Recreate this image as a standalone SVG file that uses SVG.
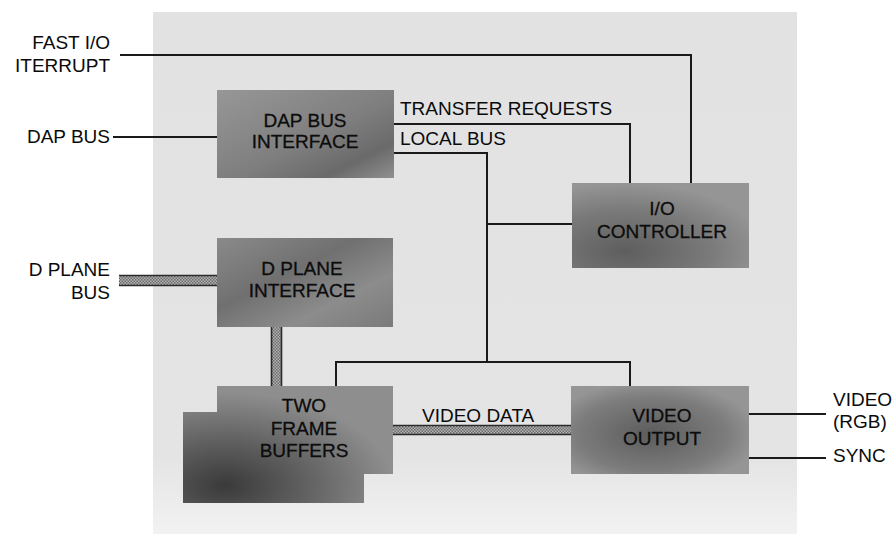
<svg xmlns="http://www.w3.org/2000/svg" width="894" height="534" viewBox="0 0 894 534">
  <defs>
    <style>
      .lbl { font-family: "Liberation Sans", Arial, Helvetica, sans-serif; font-size: 19px; fill: #0a0a0a; }
      .blbl { font-family: "Liberation Sans", Arial, Helvetica, sans-serif; font-size: 19px; fill: #0c0c0c; text-anchor: middle; stroke: #0c0c0c; stroke-width: 0.3px; }
      .wire { stroke: #1a1a1a; stroke-width: 2; fill: none; }
      .barfill { fill: url(#hatch); }
      .baredge { stroke: #2a2a2a; stroke-width: 1.6; fill: none; }
    </style>
    <pattern id="hatch" width="3" height="3" patternUnits="userSpaceOnUse">
      <rect width="3" height="3" fill="#b4b4b4"/>
      <rect width="1.5" height="1.5" fill="#6a6a6a"/>
      <rect x="1.5" y="1.5" width="1.5" height="1.5" fill="#6a6a6a"/>
    </pattern>
    <linearGradient id="bg" x1="0" y1="0" x2="0" y2="1">
      <stop offset="0" stop-color="#e2e2e2"/>
      <stop offset="0.85" stop-color="#e4e4e4"/>
      <stop offset="1" stop-color="#f2f2f2"/>
    </linearGradient>
    <linearGradient id="gDap" x1="0" y1="0" x2="1" y2="1">
      <stop offset="0" stop-color="#979797"/>
      <stop offset="0.55" stop-color="#7e7e7e"/>
      <stop offset="0.8" stop-color="#6a6a6a"/>
      <stop offset="1" stop-color="#909090"/>
    </linearGradient>
    <linearGradient id="gDpl" x1="0" y1="0" x2="1" y2="1">
      <stop offset="0" stop-color="#8a8a8a"/>
      <stop offset="0.4" stop-color="#707070"/>
      <stop offset="0.7" stop-color="#8c8c8c"/>
      <stop offset="1" stop-color="#7a7a7a"/>
    </linearGradient>
    <radialGradient id="gFb" cx="0.2" cy="0.85" r="0.8">
      <stop offset="0" stop-color="#3a3a3a"/>
      <stop offset="0.45" stop-color="#5e5e5e"/>
      <stop offset="1" stop-color="#8e8e8e"/>
    </radialGradient>
    <radialGradient id="gIo" cx="0.3" cy="0.8" r="0.8">
      <stop offset="0" stop-color="#5e5e5e"/>
      <stop offset="0.6" stop-color="#7a7a7a"/>
      <stop offset="1" stop-color="#959595"/>
    </radialGradient>
    <radialGradient id="gVo" cx="0.45" cy="0.55" r="0.6">
      <stop offset="0" stop-color="#5c5c5c"/>
      <stop offset="0.7" stop-color="#7c7c7c"/>
      <stop offset="1" stop-color="#959595"/>
    </radialGradient>
  </defs>

  <rect width="894" height="534" fill="#ffffff"/>
  <g id="background">
    <rect x="153" y="12" width="644" height="522" fill="url(#bg)"/>
  </g>

  <g id="connectors">
    <path class="wire" d="M120,55 H691 V183"/>
    <path class="wire" d="M113,137 H217"/>
    <path class="wire" d="M394,124 H630 V183"/>
    <path class="wire" d="M394,153 H487 V362"/>
    <path class="wire" d="M487,224 H572"/>
    <path class="wire" d="M336,386 V362 H630 V386"/>
    <path class="wire" d="M749,414 H826"/>
    <path class="wire" d="M749,458 H826"/>
    <g id="bus-dplane">
      <rect class="barfill" x="119" y="275" width="98" height="11"/>
      <path class="baredge" d="M119,275.5 H217 M119,285.5 H217"/>
    </g>
    <g id="bus-dplane-fb">
      <rect class="barfill" x="271" y="327" width="11" height="59"/>
      <path class="baredge" d="M271.5,327 V386 M281.5,327 V386"/>
    </g>
    <g id="bus-video-data">
      <rect class="barfill" x="393" y="425" width="178" height="10"/>
      <path class="baredge" d="M393,425.5 H571 M393,434.5 H571"/>
    </g>
  </g>

  <g id="node-dap-bus-interface">
    <rect x="217" y="90" width="177" height="88" fill="url(#gDap)"/>
    <text class="blbl" x="305" y="127">DAP BUS</text>
    <text class="blbl" x="305" y="148">INTERFACE</text>
  </g>

  <g id="node-d-plane-interface">
    <rect x="217" y="238" width="176" height="89" fill="url(#gDpl)"/>
    <text class="blbl" x="302" y="275">D PLANE</text>
    <text class="blbl" x="302" y="297">INTERFACE</text>
  </g>

  <g id="node-two-frame-buffers">
    <path d="M217,386 H393 V474 H364 V503 H183 V412 H217 Z" fill="url(#gFb)"/>
    <text class="blbl" x="304" y="412">TWO</text>
    <text class="blbl" x="304" y="435">FRAME</text>
    <text class="blbl" x="304" y="457">BUFFERS</text>
  </g>

  <g id="node-io-controller">
    <rect x="572" y="183" width="177" height="85" fill="url(#gIo)"/>
    <text class="blbl" x="662" y="215">I/O</text>
    <text class="blbl" x="662" y="238">CONTROLLER</text>
  </g>

  <g id="node-video-output">
    <rect x="571" y="386" width="178" height="88" fill="url(#gVo)"/>
    <text class="blbl" x="662" y="422">VIDEO</text>
    <text class="blbl" x="662" y="445">OUTPUT</text>
  </g>

  <g id="labels">
    <text class="lbl" x="110" y="49" text-anchor="end">FAST I/O</text>
    <text class="lbl" x="110" y="72" text-anchor="end">ITERRUPT</text>
    <text class="lbl" x="110" y="143" text-anchor="end">DAP BUS</text>
    <text class="lbl" x="110" y="276" text-anchor="end">D PLANE</text>
    <text class="lbl" x="110" y="299" text-anchor="end">BUS</text>
    <text class="lbl" x="400" y="115">TRANSFER REQUESTS</text>
    <text class="lbl" x="400" y="145">LOCAL BUS</text>
    <text class="lbl" x="422" y="422">VIDEO DATA</text>
    <text class="lbl" x="833" y="406">VIDEO</text>
    <text class="lbl" x="833" y="428">(RGB)</text>
    <text class="lbl" x="833" y="462">SYNC</text>
  </g>
</svg>
